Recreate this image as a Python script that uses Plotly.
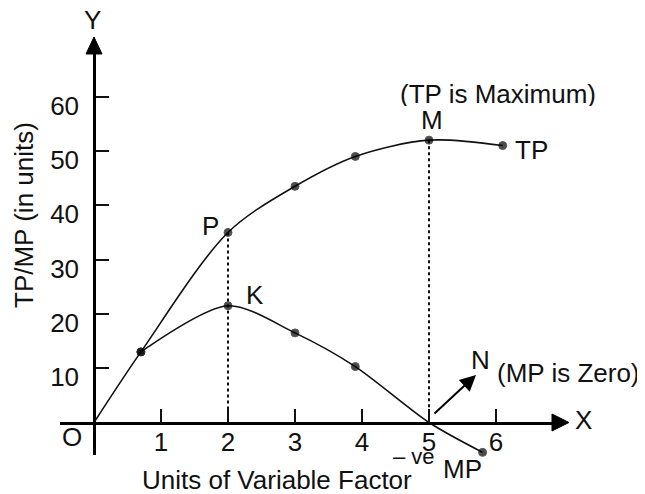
import plotly.graph_objects as go

# ---- data ----
units = [0, 0.7, 2, 3, 3.9, 5, 6.1]
tp_values = [0, 13, 35, 43.5, 49, 52, 51]
mp_units = [0.7, 2, 3, 3.9, 5, 5.8]
mp_values = [13, 21.5, 16.5, 10.3, 0, -5.5]
x_ticks = [1, 2, 3, 4, 5, 6]
y_ticks = [10, 20, 30, 40, 50, 60]

INK = "#111111"
FONT = "Liberation Sans, Arial, sans-serif"
FS = 26

# page body has an 8px default margin: lay out in window pixels, then shift
OFF = 8
W, H = 645 - OFF, 494 - OFF


def sx(p):
    return p - OFF


def sy(p):
    return p - OFF


# geometry in window pixels
x0_px, ux = 94, 67.0
y0_px, uy = 422.5, 5.43
xl_px, xr_px = 60, 553
yt_px, yb_px = 53, 455

xr = [(xl_px - x0_px) / ux, (xr_px - x0_px) / ux]
yr = [(y0_px - yb_px) / uy, (y0_px - yt_px) / uy]

fig = go.Figure()

# dotted drop lines from P and M
p_i = units.index(2)
m_i = units.index(5)
for i in (p_i, m_i):
    fig.add_trace(go.Scatter(x=[units[i], units[i]], y=[tp_values[i], 0], mode="lines",
                             line=dict(color=INK, width=2, dash="dot"), hoverinfo="skip"))

# TP curve
fig.add_trace(go.Scatter(x=units, y=tp_values, mode="lines+markers",
                         line=dict(color=INK, width=1.6, shape="spline", smoothing=0.9),
                         marker=dict(color="black", size=[0 if v == 0 else 8 for v in tp_values]),
                         cliponaxis=False, hoverinfo="skip"))
# MP curve
fig.add_trace(go.Scatter(x=mp_units, y=mp_values, mode="lines+markers",
                         line=dict(color=INK, width=1.6, shape="spline", smoothing=0.8),
                         marker=dict(color="black", size=[0 if v == 0 else 8 for v in mp_values]),
                         cliponaxis=False, hoverinfo="skip"))


def px2x(p):
    return (p - x0_px) / ux


def px2y(p):
    return (y0_px - p) / uy


def label(text, px, py, size=FS, **kw):
    fig.add_annotation(x=sx(px) / W, y=1 - sy(py) / H, xref="paper", yref="paper", text=text,
                       xanchor="center", yanchor="middle", borderpad=0,
                       showarrow=False, font=dict(family=FONT, size=size, color=INK), **kw)


label("Y", 92, 20, height=20)
label("X", 583, 420)
label("O", 72, 437)
label("P", 210, 226)
label("K", 255, 295)
label("M", 432, 120, height=22)
label("(TP is Maximum)", 497.5, 94, height=24)
label("TP", 531, 150)
label("N", 480, 360)
label("(MP is Zero)", 568, 373)
label("– ve", 414, 456, size=22, height=16)
label("MP", 462, 469)
label("Units of Variable Factor", 276.5, 480, height=22)
label("TP/MP (in units)", 24, 215, textangle=-90)

# arrow toward N
fig.add_annotation(x=px2x(476), y=px2y(375), ax=px2x(433), ay=px2y(415),
                   xref="x", yref="y", axref="x", ayref="y", text="",
                   showarrow=True, arrowhead=2, arrowsize=1.6, arrowwidth=2,
                   arrowcolor="black", standoff=0, startstandoff=0)


# axis arrow heads (paper-coordinate triangles)
def tri(points):
    d = "M " + " L ".join(f"{sx(x) / W:.5f},{1 - sy(y) / H:.5f}" for x, y in points) + " Z"
    fig.add_shape(type="path", path=d, xref="paper", yref="paper",
                  fillcolor="black", line=dict(color="black", width=1))


tri([(552, 414), (569, 422.5), (552, 431)])
tri([(86, 54), (94, 37), (102, 54)])

fig.update_layout(
    width=W, height=H, margin=dict(l=0, r=0, t=0, b=0),
    paper_bgcolor="white", plot_bgcolor="white", showlegend=False,
    xaxis=dict(domain=[sx(xl_px) / W, sx(xr_px) / W], range=xr, anchor="free",
               position=(H - sy(y0_px)) / H, showline=True, linecolor="black", linewidth=2.5,
               ticks="inside", ticklen=13, tickwidth=1.5, tickcolor=INK,
               tickvals=x_ticks, ticktext=[str(t) for t in x_ticks],
               tickfont=dict(family=FONT, size=FS, color=INK), ticklabelstandoff=-4,
               showgrid=False, zeroline=False, fixedrange=True),
    yaxis=dict(domain=[(H - sy(yb_px)) / H, (H - sy(yt_px)) / H], range=yr, anchor="free",
               position=sx(x0_px) / W, showline=True, linecolor="black", linewidth=2.5,
               ticks="inside", ticklen=13, tickwidth=1.5, tickcolor=INK,
               tickvals=y_ticks, ticktext=[str(t) for t in y_ticks],
               tickfont=dict(family=FONT, size=FS, color=INK), ticklabelshift=9,
               ticklabelstandoff=9,
               showgrid=False, zeroline=False, fixedrange=True),
)

fig.write_html("out.html")
